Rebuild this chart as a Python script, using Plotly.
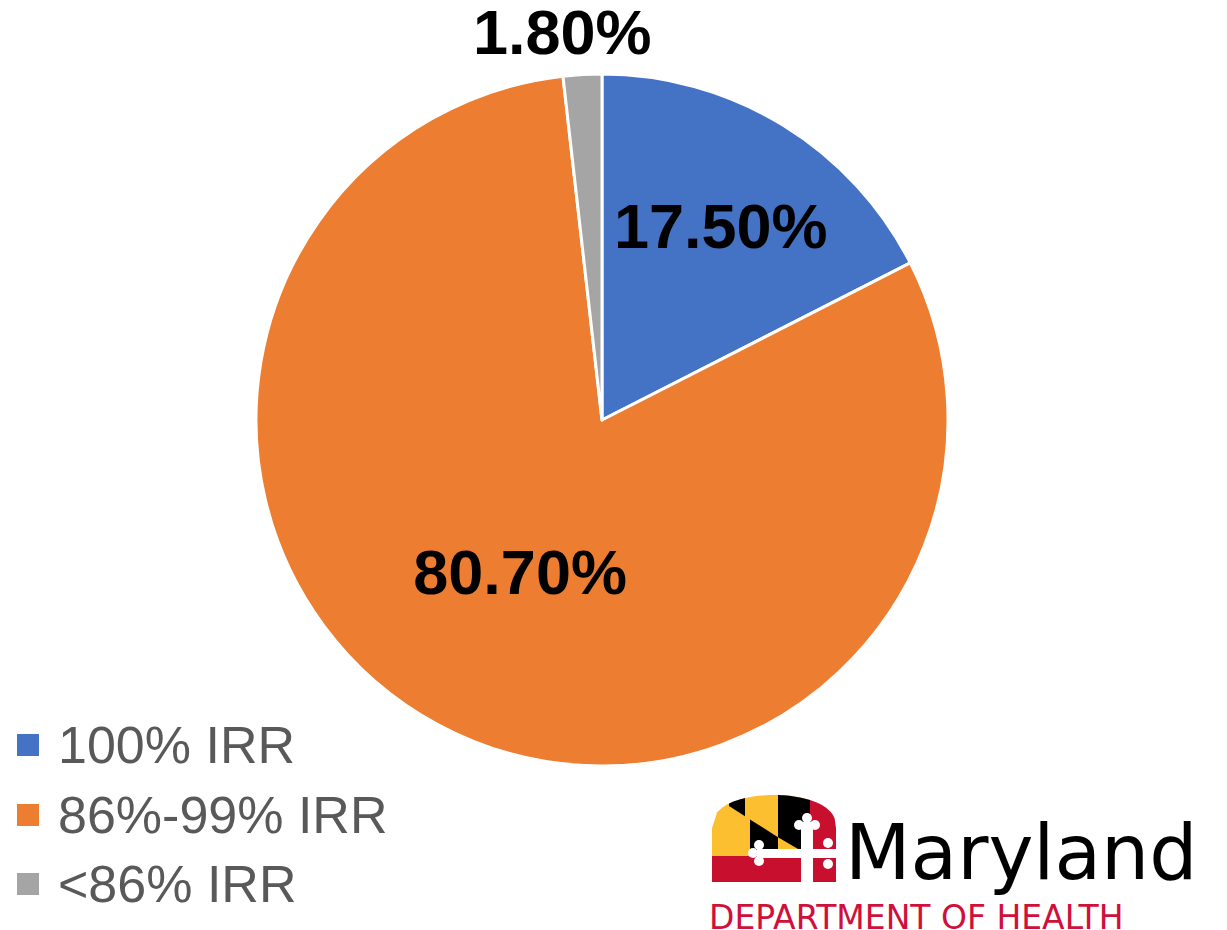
import numpy as np
import plotly.graph_objects as go

categories = ["100% IRR", "86%-99% IRR", "<86% IRR"]
values = [17.5, 80.7, 1.8]
colors = ["#4472C4", "#ED7D31", "#A5A5A5"]
label_text = ["17.50%", "80.70%", "1.80%"]

W, H = 1227, 930
OFF = 8  # page body margin

def px(x):
    return (x - OFF) / W

def py(y):
    return 1 - (y - OFF) / H

# pie geometry (target pixels)
CX, CY, R = 602, 420, 346

fig = go.Figure()
fig.add_trace(go.Pie(
    labels=categories, values=values, sort=False, direction="clockwise", rotation=0,
    marker=dict(colors=colors, line=dict(color="white", width=3)),
    text=label_text[:2] + [""], textinfo="text", textposition="inside",
    insidetextorientation="horizontal",
    textfont=dict(family="Liberation Sans, Arial", size=63, color="black", weight="bold"),
    domain=dict(x=[px(CX - R), px(CX + R)], y=[py(CY + R), py(CY - R)]),
    showlegend=False, hoverinfo="label+percent",
))

shapes = []
annotations = []

# outside label for the small slice, placed at its mid-angle
total = sum(values)
start = sum(values[:2]) / total * 360
mid = np.deg2rad(start + values[2] / total * 360 / 2)
lx = CX + R * np.sin(mid)
ly = CY - R * np.cos(mid)
annotations.append(dict(text=label_text[2], xref="paper", yref="paper", x=px(lx), y=py(ly - 6),
                        xanchor="center", yanchor="bottom", showarrow=False, xshift=-20,
                        font=dict(family="Liberation Sans, Arial", size=63, color="black", weight="bold")))

# manual legend
leg_y = [745, 815, 884]
for cat, col, yy in zip(categories, colors, leg_y):
    shapes.append(dict(type="rect", xref="paper", yref="paper",
                       x0=px(17), x1=px(39), y0=py(yy + 11), y1=py(yy - 11),
                       fillcolor=col, line=dict(width=0)))
    annotations.append(dict(text=cat, xref="paper", yref="paper", x=px(56), y=py(yy),
                            xanchor="left", yanchor="middle", showarrow=False,
                            font=dict(family="Liberation Sans, Arial", size=52, color="#595959")))

# logo
def arc_y(x):
    return 828 - 33 * np.sqrt(max(0.0, 1 - ((x - 774) / 62) ** 2)) ** 0.8

def poly(pts, color):
    d = "M " + " L ".join(f"{px(x):.5f},{py(y):.5f}" for x, y in pts) + " Z"
    shapes.append(dict(type="path", xref="paper", yref="paper", path=d,
                       fillcolor=color, line=dict(width=0)))

def arc_pts(x0, x1, n=20):
    return [(x, arc_y(x)) for x in np.linspace(x0, x1, n)]

def diag(x):
    return 808 + 0.634 * (x - 732)

YEL, BLK, RED = "#FCBF2F", "#000000", "#C8102E"
poly([(712, 856)] + arc_pts(712, 810) + [(810, 856)], YEL)
poly([(810, 856)] + arc_pts(810, 836) + [(836, 856)], RED)
poly([(712, 856), (836, 856), (836, 882), (712, 882)], RED)
poly(arc_pts(729, 745, 8) + [(745, diag(745)), (729, diag(729))], BLK)
poly(arc_pts(778, 810, 12) + [(810, 856), (778, diag(778))], BLK)
poly([(750, diag(750)), (778, diag(778)), (778, 856), (750, 856)], BLK)
# white cross
poly([(757, 849), (836, 849), (836, 858), (757, 858)], "white")
poly([(801, 822), (813, 822), (813, 882), (801, 882)], "white")
for cx, cy, r in [(759, 845, 5), (759, 861, 5), (753, 853, 5),
                  (807, 818, 5), (799, 825, 5), (815, 825, 5),
                  (828, 843, 5), (828, 864, 5)]:
    shapes.append(dict(type="circle", xref="paper", yref="paper",
                       x0=px(cx - r), x1=px(cx + r), y0=py(cy + r), y1=py(cy - r),
                       fillcolor="white", line=dict(width=0)))

annotations.append(dict(text="Maryland", xref="paper", yref="paper", x=px(843), y=py(880),
                        xanchor="left", yanchor="bottom", showarrow=False, yshift=-19,
                        font=dict(family="DejaVu Sans", size=76, color="black")))
annotations.append(dict(text="DEPARTMENT OF HEALTH", xref="paper", yref="paper", x=px(707), y=py(917),
                        xanchor="left", yanchor="middle", showarrow=False,
                        font=dict(family="DejaVu Sans", size=33, color="#D0103A")))

fig.update_layout(width=W, height=H, margin=dict(l=0, r=0, t=0, b=0),
                  paper_bgcolor="white", plot_bgcolor="white",
                  shapes=shapes, annotations=annotations)
fig.write_html("out.html")
